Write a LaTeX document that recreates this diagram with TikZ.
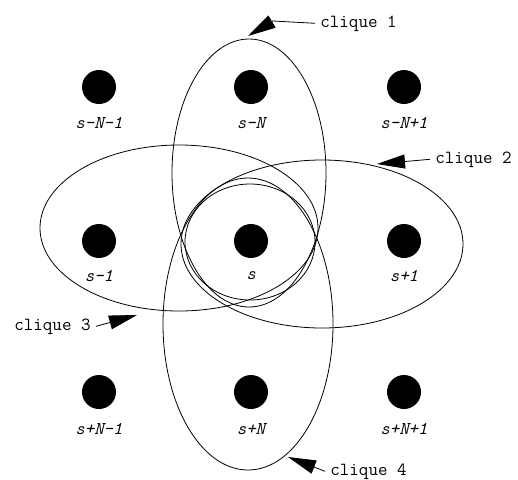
\documentclass[tikz,border=0pt]{standalone}
\usepackage{fontspec}
\usetikzlibrary{arrows.meta}

\begin{document}
\begin{tikzpicture}[
      x=1pt, y=-1pt, line width=0.8pt,
      site/.style={circle, fill=black, minimum size=34pt, inner sep=0pt},
      lab/.style={anchor=base, font=\fontsize{18}{21}\selectfont\ttfamily\itshape},
      tag/.style={font=\fontsize{18.5}{22}\selectfont\ttfamily, inner xsep=5pt, inner ysep=0pt},
      pointer/.style={-{Triangle[length=28pt, width=14pt]}}
    ]
      \useasboundingbox (0,0) rectangle (518,479);
      % the nine sites
      \node[site] (a1) at (99,87) {};
      \node[site] (a2) at (251,87) {};
      \node[site] (a3) at (404,87) {};
      \node[site] (b1) at (99,241) {};
      \node[site] (b2) at (251,241) {};
      \node[site] (b3) at (404,241) {};
      \node[site] (c1) at (99,392) {};
      \node[site] (c2) at (251,392) {};
      \node[site] (c3) at (404,392) {};
      \node[lab] (la1) at (99,128) {s-N-1};
      \node[lab] (la2) at (251,128) {s-N};
      \node[lab] (la3) at (404,128) {s-N+1};
      \node[lab] (lb1) at (99,281) {s-1};
      \node[lab] (lb2) at (251,279) {s};
      \node[lab] (lb3) at (404,281) {s+1};
      \node[lab] (lc1) at (99,434) {s+N-1};
      \node[lab] (lc2) at (251,434) {s+N};
      \node[lab] (lc3) at (404,434) {s+N+1};
      % cliques
      \draw (250,242) ellipse [x radius=65pt, y radius=58pt];
      \draw (249,173) ellipse [x radius=77pt, y radius=134pt];
      \draw (322,244) ellipse [x radius=141pt, y radius=84pt];
      \draw (179,228) ellipse [x radius=139pt, y radius=83pt];
      \draw (248,324) ellipse [x radius=85pt, y radius=146pt];
      \node[tag, anchor=base west] (q1) at (315,27) {clique 1};
      \node[tag, anchor=base west] (q2) at (430,163) {clique 2};
      \node[tag, anchor=base east] (q3) at (96,330) {clique 3};
      \node[tag, anchor=base west] (q4) at (325,475) {clique 4};
      \coordinate (k1) at (273,21);
      \coordinate (t1) at (248,36);
      \coordinate (t2) at (377,164);
      \coordinate (t3) at (137,315);
      \coordinate (t4) at (288,457);
      \draw[pointer] (q1.west) -- (k1) -- (t1);
      \draw[pointer] (q2.west) -- (t2);
      \draw[pointer] (q3.east) -- (t3);
      \draw[pointer] (q4.west) -- (t4);
    \end{tikzpicture}
\end{document}
